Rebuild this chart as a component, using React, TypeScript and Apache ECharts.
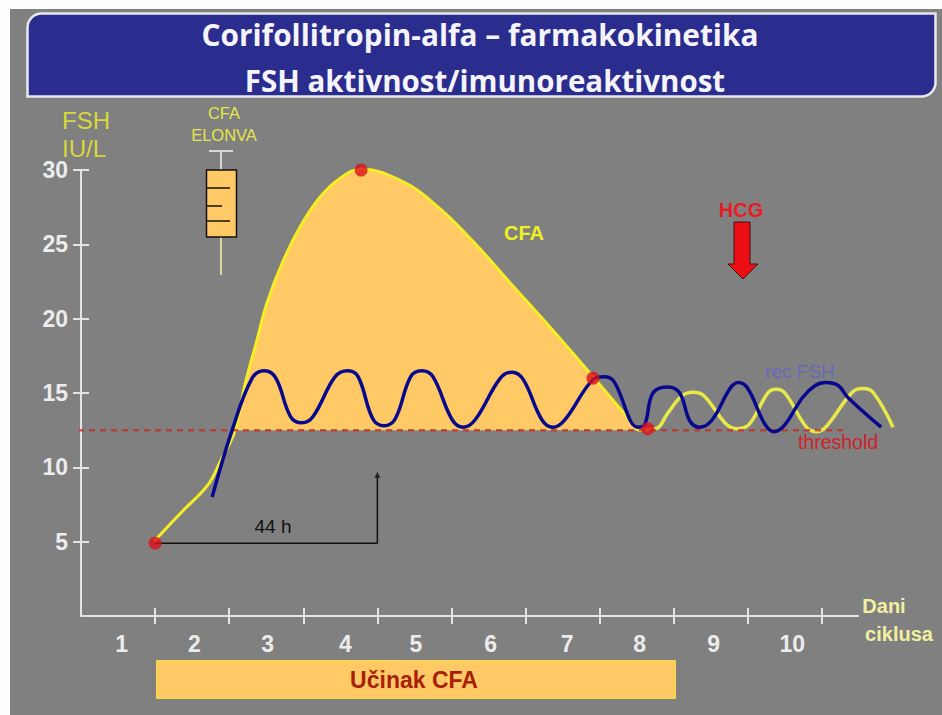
import React, { useEffect, useRef } from "react";
import * as echarts from "echarts";

const dayTicks = [1, 2, 3, 4, 5, 6, 7, 8, 9, 10];
const dayLabelPositions = [0.55, 1.53, 2.52, 3.57, 4.52, 5.53, 6.56, 7.54, 8.54, 9.6];
const dayLabels = ["1", "2", "3", "4", "5", "6", "7", "8", "9", "10"];
const yTicks = [5, 10, 15, 20, 25, 30];
const threshold = 12.5;

const cfaCurve: [number, number][] = [
  [0.99, 5.05], [1.38, 7.1], [1.71, 8.8], [1.88, 10.4], [2.08, 12.5], [2.21, 15.5], [2.375, 18.55], [2.51, 21.05],
  [2.73, 23.9], [2.96, 26.2], [3.23, 28.2], [3.5, 29.45], [3.78, 30.05], [4.35, 29.2], [4.82, 27.5], [5.29, 25.2],
  [5.83, 22.2], [6.37, 19.2], [6.91, 16.1], [7.52, 12.5],
];
const cfaTail: [number, number][] = [
  [7.52, 12.5], [7.76, 12.6], [7.92, 13.65], [8.11, 14.8], [8.26, 15.05], [8.41, 14.8], [8.71, 12.9], [8.87, 12.6],
  [9.02, 12.9], [9.27, 15.0], [9.38, 15.25], [9.5, 15.0], [9.79, 12.7], [9.92, 12.4], [10.05, 12.7], [10.41, 15.05],
  [10.55, 15.3], [10.69, 15.05], [10.96, 12.7],
];
const recFsh: [number, number][] = [
  [1.77, 8.0], [2.04, 12.5], [2.31, 16.0], [2.48, 16.5], [2.63, 16.0], [2.83, 13.4], [2.98, 13.0], [3.13, 13.4],
  [3.43, 16.1], [3.6, 16.5], [3.74, 16.1], [3.94, 13.25], [4.09, 12.8], [4.24, 13.25], [4.45, 16.1], [4.6, 16.5],
  [4.75, 16.1], [5.01, 13.2], [5.16, 12.7], [5.32, 13.2], [5.66, 16.0], [5.82, 16.4], [5.97, 15.9], [6.22, 13.2],
  [6.37, 12.7], [6.53, 13.2], [6.91, 15.9], [7.06, 16.1], [7.19, 15.8], [7.52, 12.7], [7.61, 12.9], [7.72, 15.0],
  [7.92, 15.4], [8.08, 15.0], [8.22, 13.1], [8.35, 12.7], [8.52, 13.2], [8.76, 15.3], [8.87, 15.7], [9.0, 15.3],
  [9.23, 12.9], [9.35, 12.4], [9.49, 12.8], [9.74, 14.7], [9.91, 15.5], [10.05, 15.7], [10.22, 15.5], [10.35, 14.7],
  [10.8, 12.7],
];
const keyPoints: [number, number][] = [[1.0, 4.9], [3.78, 30], [6.91, 16], [7.65, 12.6]];
const thresholdLine: [number, number][] = [[-0.04, threshold], [10.35, threshold]];
const hoursLine: [number, number][] = [[1.0, 4.9], [4.0, 4.9], [4.0, 9.4]];
const hoursArrow: [number, number][] = [[4.0, 9.5]];
const xAxisExtent: [number, number][] = [[0, 0], [10.5, 0]];

const SANS = "'Liberation Sans', Arial, sans-serif";
const YELLOWTEXT = "#e6e64a";
const SMOOTH = 0.4;

function text(x: number, y: number, t: string, fontSize: number, fill: string, fontWeight: any = "normal", fontFamily = SANS) {
  return { type: "text", x, y, silent: true, z: 20, style: { text: t, fontSize, fill, fontWeight, fontFamily, textAlign: "center", textVerticalAlign: "middle" } };
}

function line(x1: number, y1: number, x2: number, y2: number, stroke: string, lineWidth: number) {
  return { type: "line", shape: { x1, y1, x2, y2 }, silent: true, z: 10, style: { stroke, lineWidth } };
}

export default function App() {
  const ref = useRef<HTMLDivElement>(null);
  useEffect(() => {
    const chart = echarts.init(ref.current!, undefined, { renderer: "svg" });
    const axisColor = "#e4e4e4";
    chart.setOption({
      animation: false,
      backgroundColor: "#fefefe",
      grid: { left: 81, right: 46, top: 170, bottom: 99 },
      xAxis: [
        {
          type: "value", min: 0, max: 11, interval: 1, splitLine: { show: false },
          axisLine: { show: false },
          axisTick: { show: true, customValues: dayTicks, length: 8, lineStyle: { color: axisColor, width: 2 } },
          axisLabel: {
            show: true, customValues: dayLabelPositions, margin: 16, color: "#ececec", fontSize: 23, fontWeight: "bold", fontFamily: SANS,
            formatter: (v: number) => dayLabels[dayLabelPositions.indexOf(v)] ?? "",
          },
        },
        {
          type: "value", min: 0, max: 11, interval: 1, position: "bottom", splitLine: { show: false },
          axisLine: { show: false },
          axisTick: { show: true, inside: true, customValues: dayTicks, length: 8, lineStyle: { color: axisColor, width: 2 } },
          axisLabel: { show: false },
        },
      ],
      yAxis: [
        {
          type: "value", min: 0, max: 30, interval: 5, splitLine: { show: false },
          axisLine: { show: true, lineStyle: { color: axisColor, width: 2 } },
          axisTick: { show: true, customValues: yTicks, length: 8, lineStyle: { color: axisColor, width: 2 } },
          axisLabel: { show: true, customValues: yTicks, margin: 13, color: "#ececec", fontSize: 23, fontWeight: "bold", fontFamily: SANS },
        },
        {
          type: "value", min: 0, max: 30, interval: 5, position: "left", splitLine: { show: false },
          axisLine: { show: false },
          axisTick: { show: true, inside: true, customValues: yTicks, length: 8, lineStyle: { color: axisColor, width: 2 } },
          axisLabel: { show: false },
        },
      ],
      series: [
        {
          name: "x axis", type: "line", data: xAxisExtent, showSymbol: false, clip: false, z: 1,
          lineStyle: { color: axisColor, width: 2 },
        },
        {
          name: "CFA area", type: "line", data: cfaCurve.filter((p) => p[1] >= threshold), smooth: SMOOTH, showSymbol: false, clip: false, z: 2,
          lineStyle: { width: 0 }, areaStyle: { color: "#ffc966", opacity: 1, origin: threshold },
        },
        {
          name: "CFA", type: "line", data: cfaCurve, smooth: SMOOTH, showSymbol: false, clip: false, z: 3,
          lineStyle: { color: "#f5ee25", width: 3 },
        },
        {
          name: "CFA tail", type: "line", data: cfaTail, smooth: SMOOTH, showSymbol: false, clip: false, z: 3,
          lineStyle: { color: "#e8e84a", width: 3.5 },
        },
        {
          name: "threshold", type: "line", data: thresholdLine, showSymbol: false, clip: false, z: 4,
          lineStyle: { color: "rgba(196,44,38,0.75)", width: 2.5, type: [6, 5] },
        },
        {
          name: "rec FSH", type: "line", data: recFsh, smooth: SMOOTH, showSymbol: false, clip: false, z: 5,
          lineStyle: { color: "#08088e", width: 3.5 },
        },
        {
          name: "44 h", type: "line", data: hoursLine, showSymbol: false, clip: false, z: 5,
          lineStyle: { color: "#111", width: 1.5 },
        },
        {
          name: "44 h arrow", type: "scatter", data: hoursArrow, symbol: "triangle", symbolSize: 6, z: 5,
          itemStyle: { color: "#111" },
        },
        {
          name: "key points", type: "scatter", data: keyPoints, symbolSize: 13, clip: false, z: 6,
          itemStyle: { color: "#dc0f1c" },
        },
      ],
      graphic: [
        { type: "rect", z: -5, silent: true, shape: { x: 10, y: 9, width: 932, height: 706 }, style: { fill: "#808080" } },
        {
          type: "rect", z: 9, silent: true, shape: { x: 27.5, y: 13.5, width: 908, height: 83, r: [14, 0, 14, 0] },
          style: { fill: "#2b2d8e", stroke: "#e8e8ee", lineWidth: 2.5 },
        },
        text(480, 34, "Corifollitropin-alfa – farmakokinetika", 29.8, "#f4f4fa", "bold", "'Open Sans', sans-serif"),
        text(485, 80, "FSH aktivnost/imunoreaktivnost", 29.5, "#f4f4fa", "bold", "'Open Sans', sans-serif"),
        text(86, 120, "FSH", 24, "#d8d83a"),
        text(84, 148, "IU/L", 24, "#d8d83a"),
        text(224, 113, "CFA", 16.5, YELLOWTEXT),
        text(224, 135, "ELONVA", 16.5, YELLOWTEXT),
        line(221, 150, 221, 170, "#d8d8d8", 2),
        line(209, 151, 233, 151, "#d8d8d8", 2),
        line(221, 237, 221, 275, "#d8d8a0", 2),
        { type: "rect", z: 10, silent: true, shape: { x: 206.5, y: 170, width: 30, height: 67 }, style: { fill: "#ffc966", stroke: "#111", lineWidth: 1.5 } },
        line(206, 188, 230, 188, "#111", 1.5),
        line(206, 206, 222, 206, "#111", 1.5),
        line(206, 221, 230, 221, "#111", 1.5),
        text(524, 233, "CFA", 20, "#f0f020", "bold"),
        text(741, 210, "HCG", 20, "#e81c24", "bold"),
        {
          type: "polygon", z: 10, silent: true,
          shape: { points: [[734, 222], [750, 222], [750, 264], [758, 264], [743, 279], [728, 264], [734, 264]] },
          style: { fill: "#ee0f14", stroke: "#401010", lineWidth: 1 },
        },
        text(800, 371, "rec FSH", 19, "#6868b8"),
        text(838, 442, "threshold", 19.5, "#cf2028"),
        text(273, 526, "44 h", 19, "#111"),
        text(884, 606, "Dani", 20, "#f0f0a0", "bold"),
        text(899, 634, "ciklusa", 20, "#f0f0a0", "bold"),
        {
          type: "rect", z: 9, silent: true, shape: { x: 156.5, y: 660.5, width: 519, height: 38 },
          style: { fill: "#ffc966", stroke: "#f2e03c", lineWidth: 1 },
        },
        text(414, 680, "Učinak CFA", 23, "#a82008", "bold"),
      ],
    });
    return () => chart.dispose();
  }, []);
  return <div ref={ref} style={{ position: "fixed", left: 0, top: 0, width: 942, height: 715 }} />;
}
